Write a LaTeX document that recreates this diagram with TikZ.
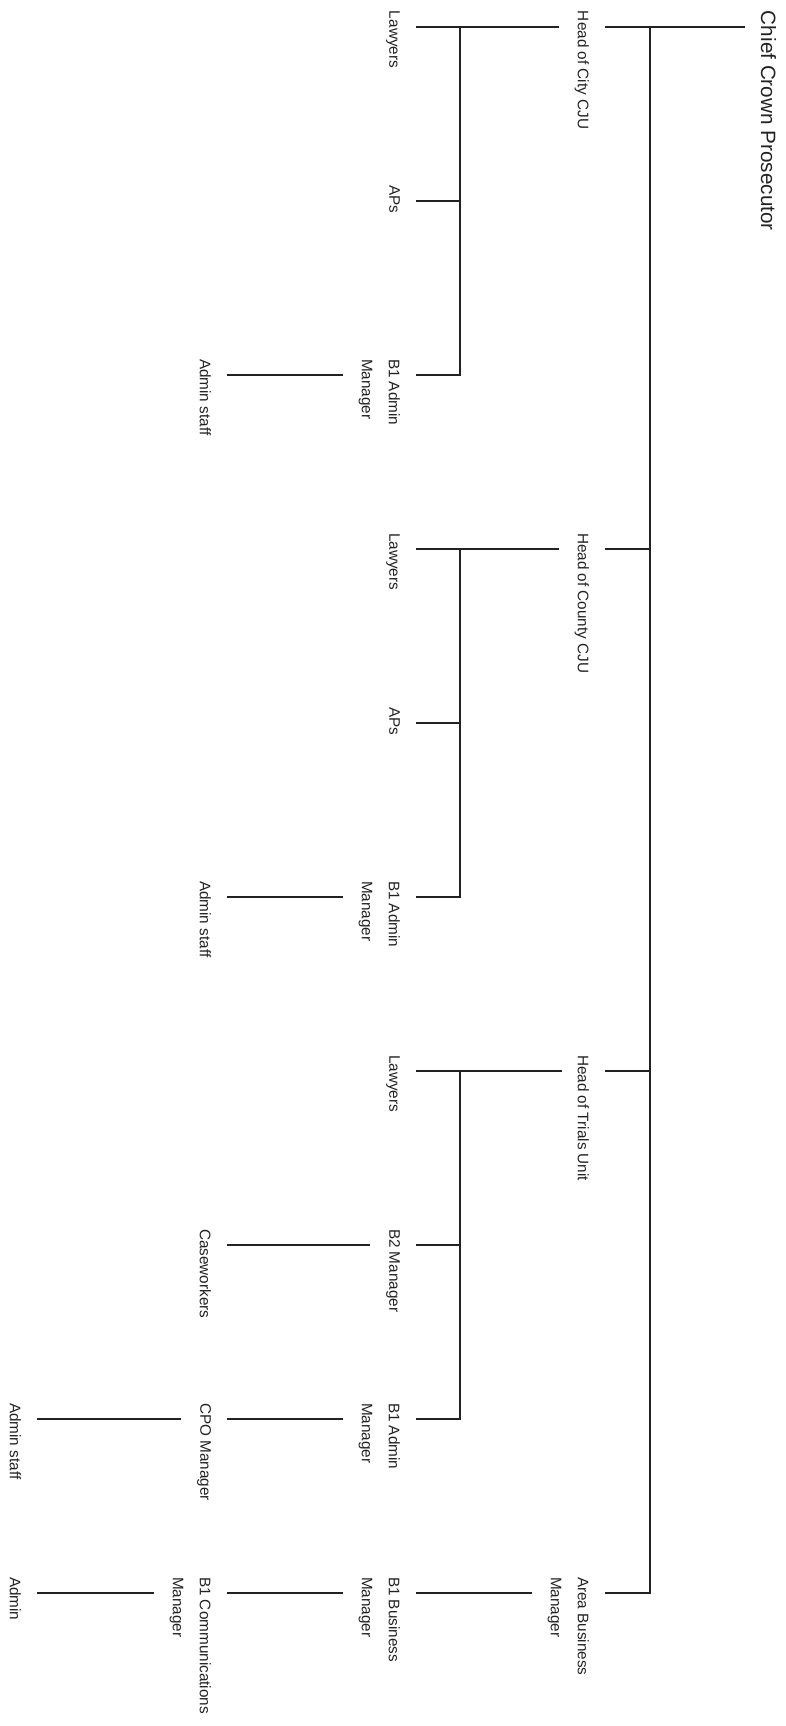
\documentclass[tikz,border=0pt]{standalone}
\usepackage{fontspec}
\setmainfont{Liberation Sans}
\definecolor{txt}{HTML}{222222}
\definecolor{ln}{HTML}{222222}
\begin{document}
\begin{tikzpicture}[x=1pt,y={(0pt,-1pt)},
  lbl/.style={rotate=-90, anchor=north west, inner xsep=0pt, inner ysep=16pt,
    outer sep=0pt, align=left, text=txt, font=\fontsize{15.3pt}{27pt}\selectfont},
  conn/.style={draw=ln, line width=2.2pt}]
\useasboundingbox (0,0) rectangle (785,1726);

% root
\node[lbl, anchor=south west, font=\fontsize{20.7pt}{25pt}\selectfont] (chief) at (745,11) {Chief Crown Prosecutor};

% level 1
\node[lbl] (hc)  at (605,11)   {Head of City CJU};
\node[lbl] (hco) at (605,533)  {Head of County CJU};
\node[lbl] (ht)  at (605,1055) {Head of Trials Unit};
\node[lbl] (abm) at (605,1577) {Area Business\\Manager};

% level 2
\node[lbl] (law1) at (416,11)   {Lawyers};
\node[lbl] (aps1) at (416,185)  {APs};
\node[lbl] (b1a1) at (416,359)  {B1 Admin\\Manager};
\node[lbl] (law2) at (416,533)  {Lawyers};
\node[lbl] (aps2) at (416,707)  {APs};
\node[lbl] (b1a2) at (416,881)  {B1 Admin\\Manager};
\node[lbl] (law3) at (416,1055) {Lawyers};
\node[lbl] (b2m)  at (416,1229) {B2 Manager};
\node[lbl] (b1a3) at (416,1403) {B1 Admin\\Manager};
\node[lbl] (b1bm) at (416,1577) {B1 Business\\Manager};

% level 3
\node[lbl] (as1)  at (227,359)  {Admin staff};
\node[lbl] (as2)  at (227,881)  {Admin staff};
\node[lbl] (cw)   at (227,1229) {Caseworkers};
\node[lbl] (cpo)  at (227,1403) {CPO Manager};
\node[lbl] (b1cm) at (227,1577) {B1 Communications\\Manager};

% level 4
\node[lbl] (as3) at (37,1403) {Admin staff};
\node[lbl] (adm) at (37,1577) {Admin};

% main spine
\coordinate (spine) at (650,27);
\draw[conn] ([shift={(0,16)}]chief.south west) -- ([shift={(0,16)}]hc.north west);
\draw[conn] (spine) |- ([shift={(0,16)}]hco.north west);
\draw[conn] (spine) |- ([shift={(0,16)}]ht.north west);
\draw[conn] (spine) |- ([shift={(0,16)}]abm.north west);

% City CJU
\coordinate (s1) at (460,27);
\draw[conn] ([shift={(0,16)}]hc.south west) -- ([shift={(0,16)}]law1.north west);
\draw[conn] (s1) |- ([shift={(0,16)}]aps1.north west);
\draw[conn] (s1) |- ([shift={(0,16)}]b1a1.north west);
\draw[conn] ([shift={(0,16)}]b1a1.south west) -- ([shift={(0,16)}]as1.north west);

% County CJU
\coordinate (s2) at (460,549);
\draw[conn] ([shift={(0,16)}]hco.south west) -- ([shift={(0,16)}]law2.north west);
\draw[conn] (s2) |- ([shift={(0,16)}]aps2.north west);
\draw[conn] (s2) |- ([shift={(0,16)}]b1a2.north west);
\draw[conn] ([shift={(0,16)}]b1a2.south west) -- ([shift={(0,16)}]as2.north west);

% Trials Unit
\coordinate (s3) at (460,1071);
\draw[conn] ([shift={(0,16)}]ht.south west) -- ([shift={(0,16)}]law3.north west);
\draw[conn] (s3) |- ([shift={(0,16)}]b2m.north west);
\draw[conn] (s3) |- ([shift={(0,16)}]b1a3.north west);
\draw[conn] ([shift={(0,16)}]b2m.south west) -- ([shift={(0,16)}]cw.north west);
\draw[conn] ([shift={(0,16)}]b1a3.south west) -- ([shift={(0,16)}]cpo.north west);
\draw[conn] ([shift={(0,16)}]cpo.south west) -- ([shift={(0,16)}]as3.north west);

% Business
\draw[conn] ([shift={(0,16)}]abm.south west) -- ([shift={(0,16)}]b1bm.north west);
\draw[conn] ([shift={(0,16)}]b1bm.south west) -- ([shift={(0,16)}]b1cm.north west);
\draw[conn] ([shift={(0,16)}]b1cm.south west) -- ([shift={(0,16)}]adm.north west);
\end{tikzpicture}
\end{document}
